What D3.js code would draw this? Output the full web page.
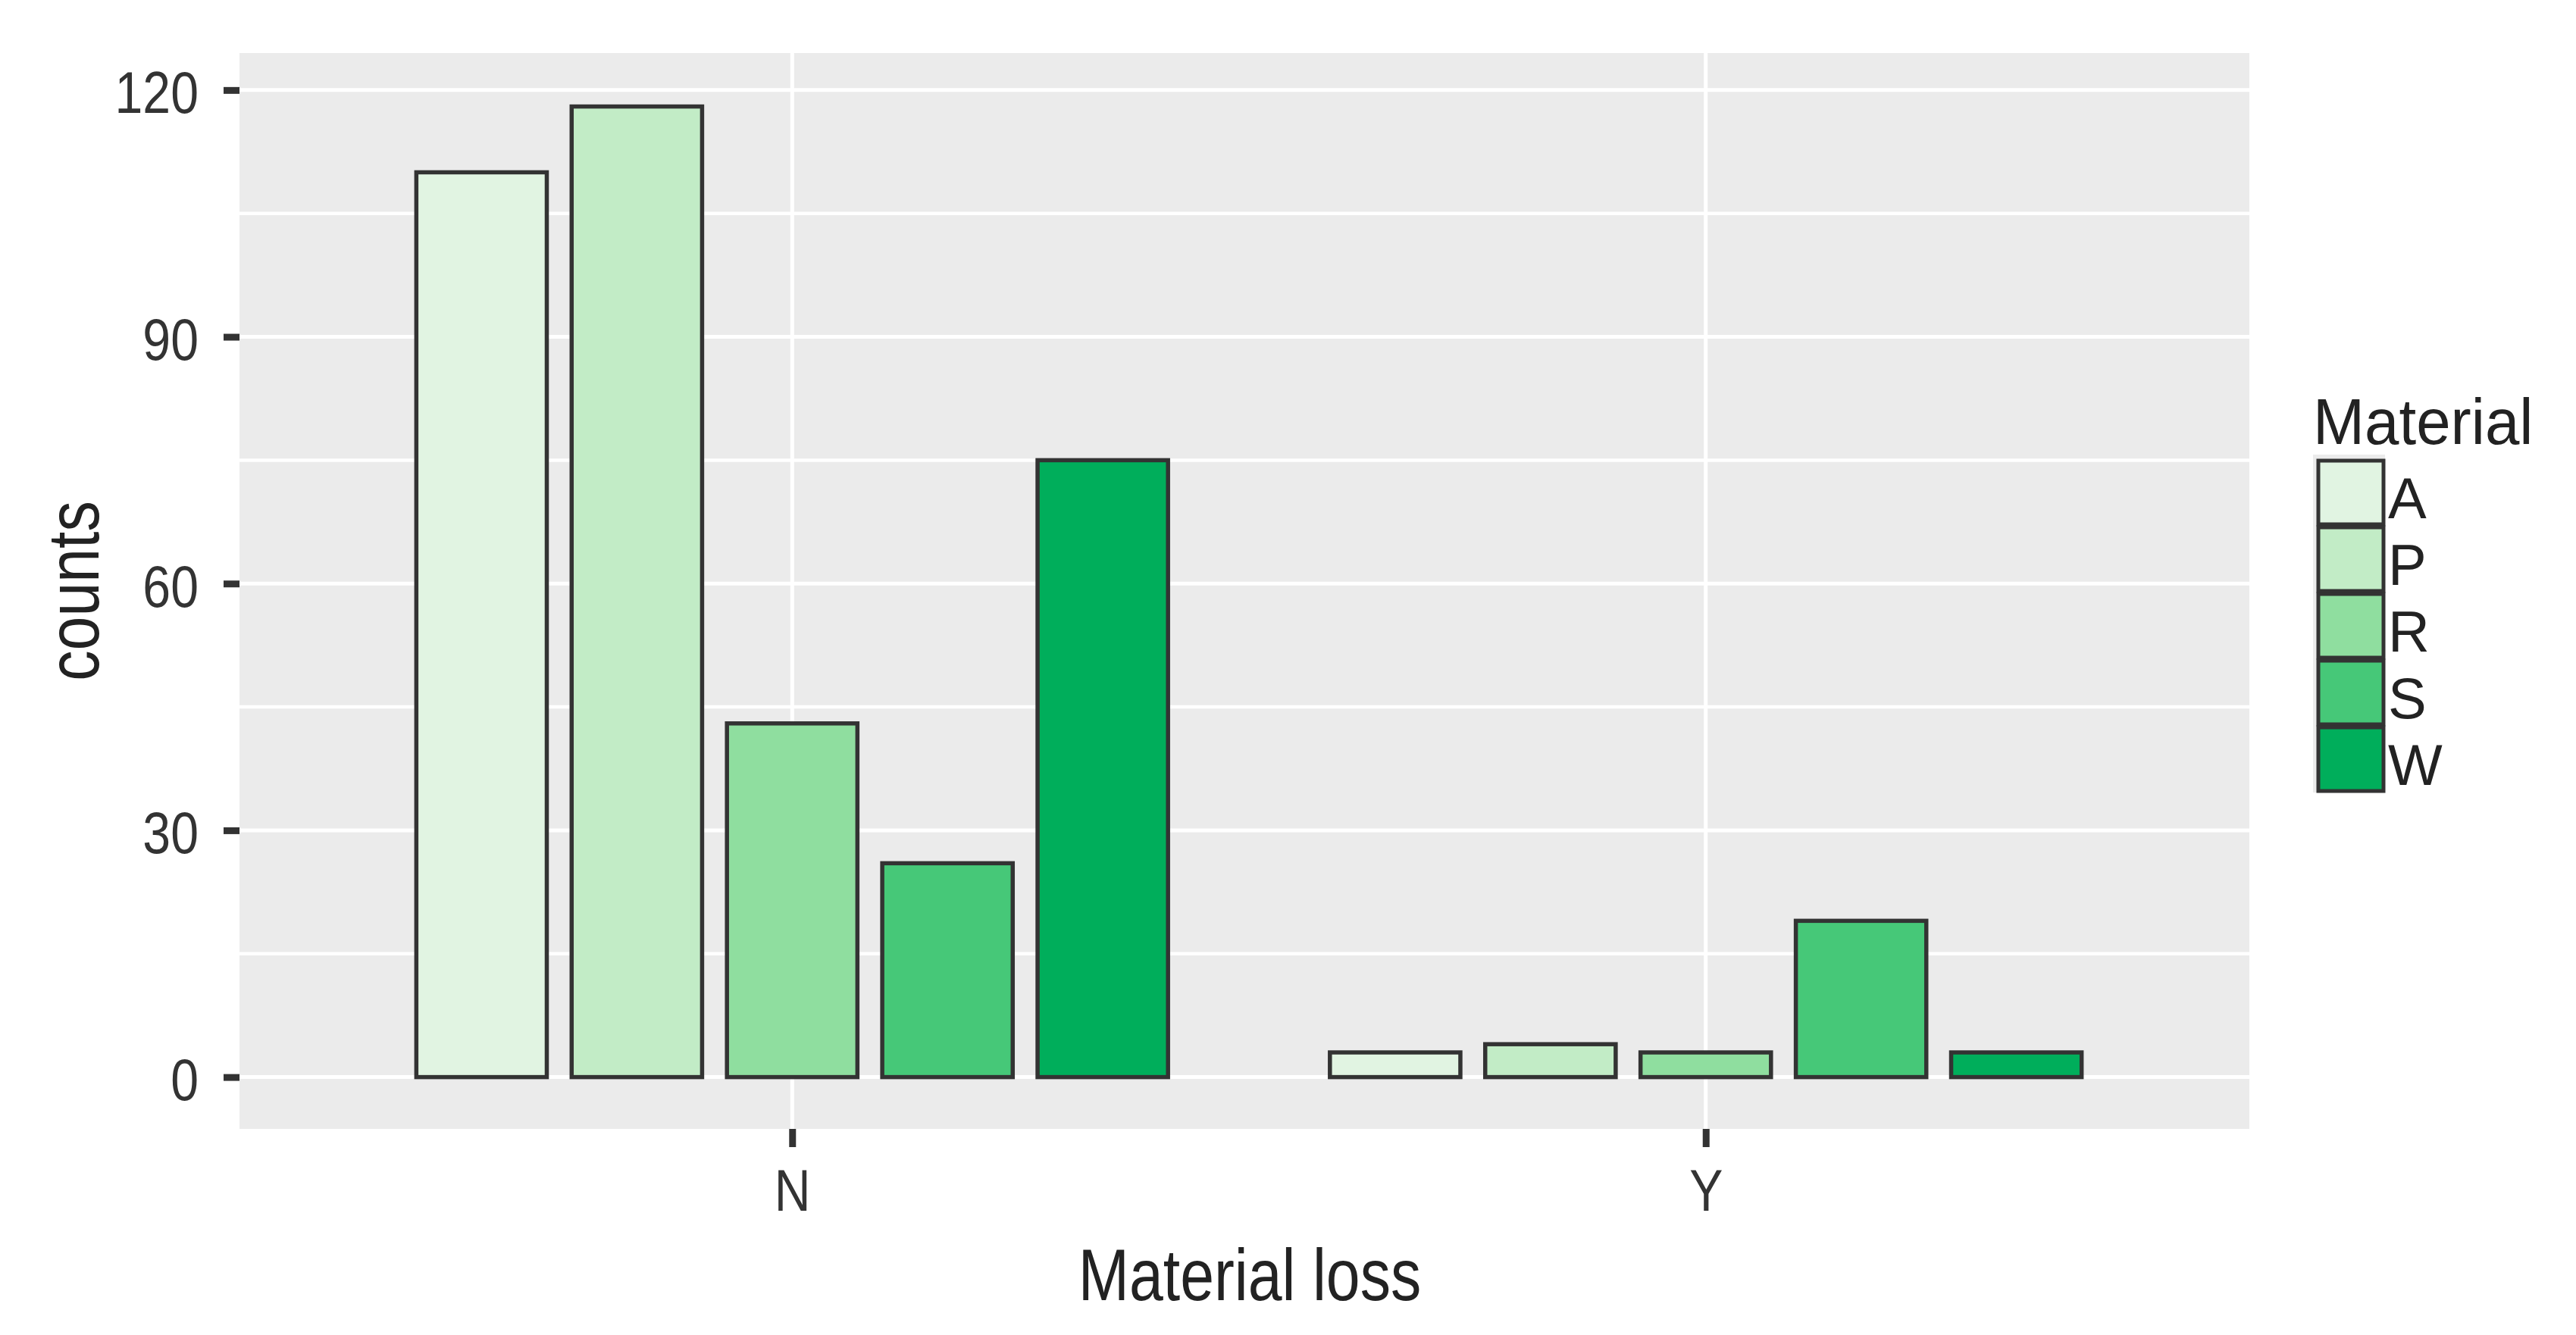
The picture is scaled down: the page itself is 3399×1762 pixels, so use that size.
<!DOCTYPE html>
<html>
<head>
<meta charset="utf-8">
<script src="https://cdn.jsdelivr.net/npm/d3@7"></script>
<style>
  html, body { margin: 0; padding: 0; background: #ffffff; }
  svg { display: block; }
  text { font-family: "Liberation Sans", Arial, "DejaVu Sans", sans-serif; }
</style>
</head>
<body>
<svg id="chart" width="3399" height="1762"></svg>
<script>
// ---- data ----
const categories = ["N", "Y"];
const materials = ["A", "P", "R", "S", "W"];
const countsN = [110, 118, 43, 26, 75];
const countsY = [3, 4, 3, 19, 3];
const fillColors = ["#E1F4E2", "#C2ECC6", "#8FDE9F", "#46C878", "#00AE5B"];
const yMajorTicks = [0, 30, 60, 90, 120];
const yMinorTicks = [15, 45, 75, 105];
const xTitle = "Material loss";
const yTitle = "counts";
const legendTitle = "Material";

// ---- layout ----
const panel = { left: 316, right: 2968, top: 70, bottom: 1490 };
const condense = 0.84;

const svg = d3.select("#chart");

const rows = [];
categories.forEach((c, ci) => {
  const vals = ci === 0 ? countsN : countsY;
  materials.forEach((m, mi) => rows.push({ cat: c, mat: m, value: vals[mi] }));
});

const x = d3.scalePoint().domain(categories)
  .range([panel.left + 6, panel.right + 6]).padding(0.6);
const step = x.step();
const xInner = d3.scaleBand().domain(materials)
  .range([-0.425 * step, 0.425 * step]).paddingInner(0.16).paddingOuter(0.08);
const y = d3.scaleLinear().domain([-6.3, 124.5]).range([panel.bottom, panel.top]);
const color = d3.scaleOrdinal().domain(materials).range(fillColors);

// panel background
svg.append("rect")
  .attr("x", panel.left).attr("y", panel.top)
  .attr("width", panel.right - panel.left).attr("height", panel.bottom - panel.top)
  .attr("fill", "#EBEBEB");

// grid
const grid = svg.append("g");
grid.selectAll("line.minor").data(yMinorTicks).join("line")
  .attr("x1", panel.left).attr("x2", panel.right)
  .attr("y1", d => y(d)).attr("y2", d => y(d))
  .attr("stroke", "#FFFFFF").attr("stroke-width", 4.5);
grid.selectAll("line.major").data(yMajorTicks).join("line")
  .attr("x1", panel.left).attr("x2", panel.right)
  .attr("y1", d => y(d)).attr("y2", d => y(d))
  .attr("stroke", "#FFFFFF").attr("stroke-width", 5);
grid.selectAll("line.vmajor").data(categories).join("line")
  .attr("x1", d => x(d)).attr("x2", d => x(d))
  .attr("y1", panel.top).attr("y2", panel.bottom)
  .attr("stroke", "#FFFFFF").attr("stroke-width", 5);

// bars
svg.append("g").selectAll("rect").data(rows).join("rect")
  .attr("x", d => x(d.cat) + xInner(d.mat))
  .attr("width", xInner.bandwidth())
  .attr("y", d => y(d.value))
  .attr("height", d => y(0) - y(d.value))
  .attr("fill", d => color(d.mat))
  .attr("stroke", "#333333")
  .attr("stroke-width", 5.5);

// y axis
const yAxis = svg.append("g")
  .attr("transform", `translate(${panel.left},0)`)
  .call(d3.axisLeft(y).tickValues(yMajorTicks).tickSize(21).tickPadding(35));
yAxis.select(".domain").remove();
yAxis.selectAll(".tick line").attr("stroke", "#333333").attr("stroke-width", 9);
yAxis.selectAll(".tick text")
  .attr("x", null).attr("dy", null)
  .attr("transform", "translate(-54,30) scale(" + (condense + 0.02) + ",1)")
  .attr("text-anchor", "end")
  .style("font-size", "77px")
  .style("font-family", "'Liberation Sans', Arial, sans-serif")
  .attr("fill", "#333333");

// x axis
const xAxis = svg.append("g")
  .attr("transform", `translate(0,${panel.bottom})`)
  .call(d3.axisBottom(x).tickSize(24).tickPadding(10));
xAxis.select(".domain").remove();
xAxis.selectAll(".tick line").attr("stroke", "#333333").attr("stroke-width", 9);
xAxis.selectAll(".tick text")
  .attr("y", null).attr("dy", null)
  .attr("transform", "translate(0,108) scale(" + (condense + 0.02) + ",1)")
  .attr("text-anchor", "middle")
  .style("font-size", "77px")
  .style("font-family", "'Liberation Sans', Arial, sans-serif")
  .attr("fill", "#333333");

// axis titles
svg.append("text")
  .attr("transform", `translate(1649,1716) scale(${condense},1)`)
  .attr("text-anchor", "middle")
  .style("font-size", "96px")
  .attr("fill", "#222222")
  .text(xTitle);

svg.append("text")
  .attr("transform", `translate(130,780) rotate(-90) scale(${condense},1)`)
  .attr("text-anchor", "middle")
  .style("font-size", "96px")
  .attr("fill", "#222222")
  .text(yTitle);

// legend
const legend = svg.append("g");
legend.append("text")
  .attr("transform", "translate(3052,586) scale(0.95,1)")
  .style("font-size", "86px")
  .attr("fill", "#222222")
  .text(legendTitle);

const keyTop = 606, keyH = 88, keyLeft = 3052, keyRight = 3147;
legend.append("rect")
  .attr("x", keyLeft).attr("y", keyTop - 6)
  .attr("width", keyRight - keyLeft).attr("height", keyH * materials.length + 6)
  .attr("fill", "#EBEBEB");

const keys = legend.selectAll("g.key").data(materials).join("g")
  .attr("transform", (d, i) => `translate(0,${keyTop + i * keyH})`);
keys.append("rect")
  .attr("x", keyLeft + 7).attr("y", 2)
  .attr("width", keyRight - keyLeft - 9).attr("height", keyH - 4)
  .attr("fill", d => color(d))
  .attr("stroke", "#333333").attr("stroke-width", 5);
keys.append("text")
  .attr("x", 3151).attr("y", keyH / 2 + 34)
  .style("font-size", "76px")
  .attr("fill", "#222222")
  .text(d => d);
</script>
</body>
</html>
